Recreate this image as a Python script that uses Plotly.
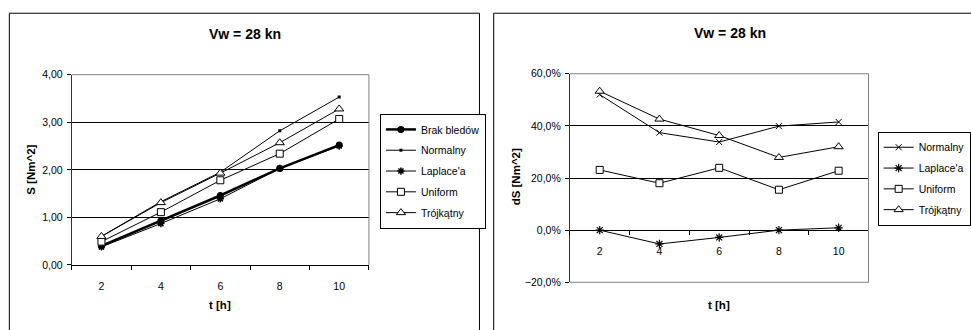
import plotly.graph_objects as go

# ---------------- data ----------------
t_labels = ["2", "4", "6", "8", "10"]

# left chart: S [Nm^2]
s_brak = [0.40, 0.93, 1.46, 2.03, 2.52]
s_normalny = [0.60, 1.33, 1.95, 2.82, 3.53]
s_laplace = [0.38, 0.87, 1.39, 2.03, 2.50]
s_uniform = [0.49, 1.11, 1.78, 2.34, 3.07]
s_trojkatny = [0.60, 1.31, 1.93, 2.57, 3.28]

# right chart: dS [%]
d_normalny = [52.0, 37.4, 33.8, 39.9, 41.5]
d_laplace = [0.0, -5.3, -2.8, 0.0, 0.9]
d_uniform = [23.1, 18.0, 23.9, 15.5, 22.8]
d_trojkatny = [53.3, 42.6, 36.3, 27.9, 32.0]

title_text = "Vw = 28 kn"
FONT = "Liberation Sans, Arial, sans-serif"
W, H = 971, 330


def px_x(p):
    return p / W


def px_y(p):
    return 1 - p / H


fig = go.Figure()

# ---- left traces ----
left_series = [
    ("Brak bledów", s_brak, dict(symbol="circle", size=7, color="black"), 2.5),
    ("Normalny", s_normalny, dict(symbol="square", size=3, color="black"), 1),
    ("Laplace'a", s_laplace, dict(symbol="asterisk-open", size=6,
                                   line=dict(color="black", width=1.5)), 1),
    ("Uniform", s_uniform, dict(symbol="square", size=7, color="white",
                                line=dict(color="black", width=1)), 1),
    ("Trójkątny", s_trojkatny, dict(symbol="triangle-up", size=8, color="white",
                                    line=dict(color="black", width=1)), 1),
]
for i, (name, vals, mk, lw) in enumerate(left_series):
    fig.add_trace(go.Scatter(
        x=t_labels, y=vals, name=name, mode="lines+markers",
        line=dict(color="black", width=lw), marker=mk,
        xaxis="x", yaxis="y", legend="legend", legendgroup="L%d" % i))

# ---- right traces ----
right_series = [
    ("Normalny", d_normalny, dict(symbol="x-thin-open", size=6,
                                  line=dict(color="black", width=1))),
    ("Laplace'a", d_laplace, dict(symbol="asterisk-open", size=7,
                                  line=dict(color="black", width=1.2))),
    ("Uniform", d_uniform, dict(symbol="square", size=7, color="white",
                                line=dict(color="black", width=1))),
    ("Trójkątny", d_trojkatny, dict(symbol="triangle-up", size=8, color="white",
                                    line=dict(color="black", width=1))),
]
for i, (name, vals, mk) in enumerate(right_series):
    fig.add_trace(go.Scatter(
        x=t_labels, y=vals, name=name, mode="lines+markers",
        line=dict(color="black", width=1), marker=mk,
        xaxis="x2", yaxis="y2", legend="legend2", legendgroup="R%d" % i))

# ---- geometry ----
l_dom_x = [px_x(73), px_x(375.5)]
l_dom_y = [px_y(268.7), px_y(71.3)]
r_dom_x = [px_x(580), px_x(884)]
r_dom_y = [px_y(286.7), px_y(70.3)]
r_range = [-20, 60]
zero_pos = r_dom_y[0] + (0 - r_range[0]) / (r_range[1] - r_range[0]) * (r_dom_y[1] - r_dom_y[0])

tickfont = dict(family=FONT, size=10.5, color="black")
legfont = dict(family=FONT, size=10.5, color="black")

fig.update_layout(
    width=W, height=H,
    margin=dict(l=0, r=0, t=0, b=0),
    paper_bgcolor="white", plot_bgcolor="white",
    separators=", ",
    font=dict(family=FONT, color="black"),
    xaxis=dict(domain=l_dom_x, anchor="y", type="category", range=[-0.5, 4.5],
               showline=True, linecolor="black", linewidth=1,
               ticks="outside", ticklen=4, tickcolor="black", tickson="boundaries",
               showgrid=False, tickfont=tickfont, ticklabelstandoff=11,
               fixedrange=True),
    yaxis=dict(domain=l_dom_y, anchor="x", range=[0, 4], dtick=1, tickformat=".2f",
               showline=True, linecolor="#333333", linewidth=1,
               ticks="outside", ticklen=4, tickcolor="black",
               showgrid=True, gridcolor="black", gridwidth=1,
               zeroline=False, tickfont=tickfont, ticklabelstandoff=2),
    xaxis2=dict(domain=r_dom_x, anchor="free", position=zero_pos, type="category",
                range=[-0.5, 4.5],
                showline=True, linecolor="black", linewidth=1,
                ticks="outside", ticklen=4, tickcolor="black", tickson="boundaries",
                showgrid=False, tickfont=tickfont, ticklabelstandoff=11),
    yaxis2=dict(domain=r_dom_y, anchor="x2", range=r_range, dtick=20,
                tickformat=".1f", ticksuffix="%",
                showline=True, linecolor="#333333", linewidth=1,
                ticks="outside", ticklen=4, tickcolor="black",
                showgrid=True, gridcolor="black", gridwidth=1,
                zeroline=False, tickfont=tickfont, ticklabelstandoff=2),
    legend=dict(x=px_x(386.7), y=px_y(112), xanchor="left", yanchor="top",
                bgcolor="white", bordercolor="black", borderwidth=1,
                font=legfont, itemwidth=30, traceorder="grouped",
                tracegroupgap=1.8),
    legend2=dict(x=px_x(893.3), y=px_y(130.5), xanchor="left", yanchor="top",
                 bgcolor="white", bordercolor="black", borderwidth=1,
                 font=legfont, itemwidth=30, traceorder="grouped",
                 tracegroupgap=1.8),
    showlegend=True,
)

# grey plot-area borders (top/right, and bottom for the right chart)
grey = dict(color="#808080", width=1)
for xr, yr, segs in [
    ("x domain", "y domain", [(0, 1, 1, 1), (1, 0, 1, 1)]),
    ("x2 domain", "y2 domain", [(0, 1, 1, 1), (1, 0, 1, 1), (0, 0, 1, 0)]),
]:
    for x0, y0, x1, y1 in segs:
        fig.add_shape(type="line", xref=xr, yref=yr, x0=x0, y0=y0, x1=x1, y1=y1,
                      line=grey, layer="above")

# outer chart borders
fig.add_shape(type="rect", xref="paper", yref="paper",
              x0=px_x(9.5), x1=px_x(488), y0=px_y(7.5), y1=-0.2,
              line=dict(color="black", width=1), layer="below")
fig.add_shape(type="rect", xref="paper", yref="paper",
              x0=px_x(502.5), x1=1.2, y0=px_y(7.5), y1=-0.2,
              line=dict(color="black", width=1), layer="below")

# titles and axis titles
ann = [
    (title_text, 249, 29, 14, 0),
    ("t [h]", 224, 310.5, 11.5, 0),
    ("S [Nm^2]", 31.5, 170, 11.5, -90),
    (title_text, 743, 28, 14, 0),
    ("t [h]", 732, 310, 11.5, 0),
    ("dS [Nm^2]", 525, 177, 11.5, -90),
]
for txt, x, y, sz, ang in ann:
    fig.add_annotation(text="<b>%s</b>" % txt, xref="paper", yref="paper",
                       x=px_x(x), y=px_y(y), xanchor="center", yanchor="middle",
                       showarrow=False, textangle=ang,
                       font=dict(family=FONT, size=sz, color="black"))

fig.write_html("out.html")
